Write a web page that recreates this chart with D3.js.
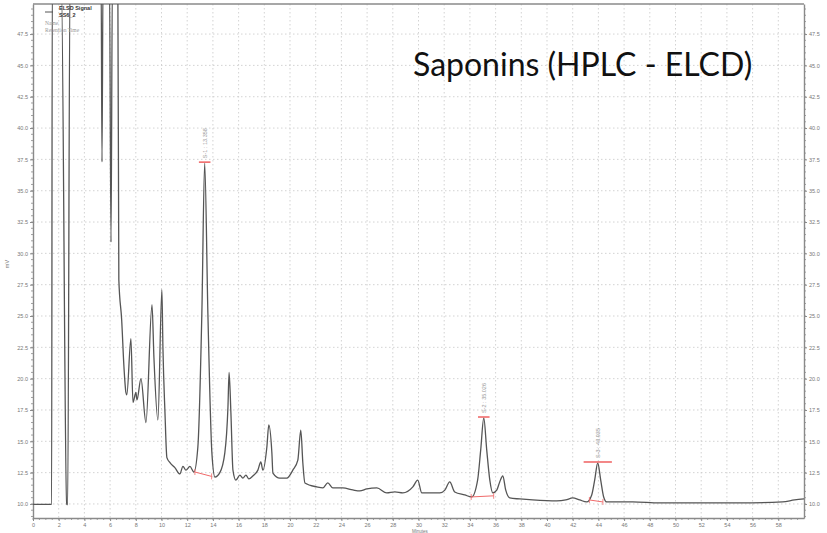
<!DOCTYPE html>
<html>
<head>
<meta charset="utf-8">
<script src="https://cdn.jsdelivr.net/npm/d3@7/dist/d3.min.js"></script>
<style>
  html, body { margin: 0; padding: 0; background: #fff; }
  svg { display: block; }
</style>
</head>
<body>
<svg id="chart" width="827" height="533"></svg>
<script>
// Retention time (min) of each trace sample
const traceTime = [
  0.00, 1.45, 1.50, 2.20, 2.62, 2.70, 2.88, 5.30, 5.37, 5.45, 5.95, 6.07, 6.18, 6.60,
  6.68, 6.90, 7.08, 7.23, 7.30, 7.62, 7.78, 8.01, 8.09, 8.40, 8.79, 9.26, 9.41, 9.72,
  10.03, 10.11, 10.27, 10.42, 10.66, 11.04, 11.43, 11.67, 11.90, 12.21, 12.52, 12.83,
  13.14, 13.36, 13.61, 13.92, 14.16, 14.54, 14.93, 15.17, 15.26, 15.40, 15.56, 15.79,
  16.10, 16.33, 16.57, 16.80, 17.11, 17.50, 17.73, 17.89, 18.20, 18.35, 18.59, 18.67,
  19.21, 19.76, 20.22, 20.61, 20.84, 21.00, 21.16, 22.09, 22.56, 22.94, 23.33, 24.11,
  24.89, 25.43, 25.98, 26.76, 27.53, 28.16, 28.78, 29.56, 29.94, 30.26, 31.66, 32.05,
  32.43, 32.82, 33.60, 34.14, 34.60, 34.84, 35.08, 35.31, 35.55, 35.78, 36.09, 36.32,
  36.56, 36.79, 37.10, 37.88, 38.89, 40.76, 41.46, 42.00, 42.54, 43.09, 43.48, 43.71,
  43.95, 44.18, 44.41, 44.65, 46.67, 48.77, 51.88, 54.99, 58.33, 59.27, 60.00
];
// ELSD response (mV) at each sample
const traceSignal = [
  9.97, 9.97, 52.0, 52.0, 10.0, 9.95, 52.0, 52.0, 37.3, 52.0, 52.0, 30.9, 52.0, 52.0,
  27.9, 24.7, 20.9, 18.9, 18.7, 23.2, 18.1, 18.9, 18.3, 20.0, 16.5, 25.9, 21.7, 16.7,
  27.1, 22.5, 17.3, 13.7, 13.3, 12.9, 12.4, 13.0, 12.7, 13.0, 12.55, 14.55,
  25.2, 37.2, 25.2, 14.1, 12.15, 12.5, 14.1, 17.7, 20.5, 17.3, 12.7, 11.9,
  12.3, 12.07, 12.3, 12.0, 12.23, 12.7, 13.35, 12.7, 14.55, 16.3, 14.07, 12.47,
  12.07, 12.07, 12.7, 13.5, 15.9, 13.27, 11.68, 11.36, 11.28, 11.68, 11.28, 11.28,
  11.12, 11.04, 11.2, 11.28, 10.88, 10.96, 10.88, 11.36, 11.9, 10.88, 10.88, 11.1,
  11.76, 10.96, 10.72, 10.56, 11.9, 14.3, 16.86, 14.3, 11.9, 10.88, 11.1, 11.76,
  12.23, 11.1, 10.48, 10.4, 10.32, 10.24, 10.32, 10.48, 10.32, 10.16, 10.72, 11.9,
  13.27, 11.9, 10.56, 10.16, 10.16, 10.08, 10.08, 10.08, 10.16, 10.32, 10.4
];

// Integrated peaks: apex, baseline start/end
const peakNames = ["S-1 : 13.358", "S-2 : 35.026", "S-3 : 43.935"];
const peakApexTime = [13.36, 35.08, 43.95];
const peakApexSignal = [37.2, 16.86, 13.27];
const peakBaseTime = [[12.6, 13.9], [34.1, 35.85], [43.3, 44.35]];
const peakBaseSignal = [[12.55, 12.2], [10.56, 10.65], [10.32, 10.16]];

const xTicks = d3.range(0, 60, 2);
const yTicks = [10.0, 12.5, 15.0, 17.5, 20.0, 22.5, 25.0, 27.5, 30.0, 32.5, 35.0, 37.5, 40.0, 42.5, 45.0, 47.5];

const chartTitle = "Saponins (HPLC - ELCD)";
const legendLines = ["ELSD Signal", "SS6_2"];
const legendFields = ["Name", "Retention Time"];

const svg = d3.select("#chart");
const plotL = 33, plotR = 804, plotT = 4, plotB = 518;

const x = d3.scaleLinear().domain([0, 60]).range([plotL, plotR]);
const y = d3.scaleLinear().domain([8.88, 49.9]).range([plotB, plotT]);

const axisColor = "#8a8a8a";
const labelFont = "Liberation Sans, Arial, sans-serif";

// grid
const grid = svg.append("g");
grid.selectAll("line.vg").data(xTicks.filter(d => d > 0)).join("line")
  .attr("x1", d => x(d)).attr("x2", d => x(d))
  .attr("y1", plotT).attr("y2", plotB)
  .attr("stroke", "#c8c8c8").attr("stroke-width", 0.8).attr("stroke-dasharray", "1.5,2.5");
grid.selectAll("line.hg").data(yTicks).join("line")
  .attr("x1", plotL).attr("x2", plotR)
  .attr("y1", d => y(d)).attr("y2", d => y(d))
  .attr("stroke", "#c8c8c8").attr("stroke-width", 0.8).attr("stroke-dasharray", "1.5,2.5");

// axes
function styleAxis(g) {
  g.select(".domain").attr("stroke", axisColor).attr("stroke-width", 1.4);
  g.selectAll(".tick line").attr("stroke", axisColor);
  g.selectAll(".tick text").attr("fill", "#777").style("font-family", labelFont).style("font-size", "5.5px");
}
function minor(g, scale, values, orient, len) {
  g.selectAll(null).data(values).join("line")
    .attr(orient === "x" ? "x1" : "y1", d => scale(d))
    .attr(orient === "x" ? "x2" : "y2", d => scale(d))
    .attr(orient === "x" ? "y1" : "x1", 0)
    .attr(orient === "x" ? "y2" : "x2", len)
    .attr("stroke", axisColor).attr("stroke-width", 0.8);
}

const gx = svg.append("g").attr("transform", `translate(0,${plotB})`)
  .call(d3.axisBottom(x).tickValues(xTicks).tickSize(3).tickSizeOuter(0).tickPadding(2).tickFormat(d3.format("d")));
styleAxis(gx);
minor(gx, x, d3.range(0, 60, 0.5), "x", 2);

const gl = svg.append("g").attr("transform", `translate(${plotL},0)`)
  .call(d3.axisLeft(y).tickValues(yTicks).tickSize(3).tickSizeOuter(0).tickPadding(2).tickFormat(d3.format(".1f")));
styleAxis(gl);
minor(gl, y, d3.range(9, 50, 0.5), "y", -2);

const gr = svg.append("g").attr("transform", `translate(${plotR},0)`)
  .call(d3.axisRight(y).tickValues(yTicks).tickSize(3).tickSizeOuter(0).tickPadding(2).tickFormat(d3.format(".1f")));
styleAxis(gr);
minor(gr, y, d3.range(9, 50, 0.5), "y", 2);

// frame top
svg.append("line").attr("x1", plotL).attr("x2", plotR).attr("y1", plotT).attr("y2", plotT)
  .attr("stroke", axisColor).attr("stroke-width", 1.4);

// axis titles
svg.append("text").attr("transform", "translate(9,264) rotate(-90)")
  .attr("text-anchor", "middle").attr("fill", "#777")
  .style("font-family", labelFont).style("font-size", "5.5px").text("mV");
svg.append("text").attr("x", 420).attr("y", 532.5)
  .attr("text-anchor", "middle").attr("fill", "#777")
  .style("font-family", labelFont).style("font-size", "4.5px").text("Minutes");

// trace
svg.append("clipPath").attr("id", "plotclip").append("rect")
  .attr("x", plotL).attr("y", plotT).attr("width", plotR - plotL).attr("height", plotB - plotT);

const line = d3.line().curve(d3.curveMonotoneX).x(d => x(d[0])).y(d => y(d[1]));
svg.append("path")
  .datum(traceTime.map((t, i) => [t, traceSignal[i]]))
  .attr("clip-path", "url(#plotclip)")
  .attr("fill", "none").attr("stroke", "#555").attr("stroke-width", 1.3)
  .attr("stroke-linejoin", "round")
  .attr("d", line);

// peak integration marks and labels
const red = "#f06a6a";
peakNames.forEach((name, i) => {
  const half = i === 2 ? 1.1 : 0.45;
  svg.append("line")
    .attr("x1", x(peakApexTime[i] - half)).attr("x2", x(peakApexTime[i] + half))
    .attr("y1", y(peakApexSignal[i]) - 1).attr("y2", y(peakApexSignal[i]) - 1)
    .attr("stroke", red).attr("stroke-width", 1.6);
  const bt = peakBaseTime[i], bs = peakBaseSignal[i];
  svg.append("line")
    .attr("x1", x(bt[0])).attr("x2", x(bt[1]))
    .attr("y1", y(bs[0])).attr("y2", y(bs[1]))
    .attr("stroke", red).attr("stroke-width", 1);
  [0, 1].forEach(k => {
    svg.append("line")
      .attr("x1", x(bt[k])).attr("x2", x(bt[k]))
      .attr("y1", y(bs[k]) - 3).attr("y2", y(bs[k]) + 3)
      .attr("stroke", red).attr("stroke-width", 0.8);
  });
  svg.append("text")
    .attr("transform", `translate(${x(peakApexTime[i]) + 2},${y(peakApexSignal[i]) - 5}) rotate(-90)`)
    .attr("fill", "#999").style("font-family", labelFont).style("font-size", "5.5px")
    .text(name);
});

// legend
svg.append("line").attr("x1", 45).attr("x2", 53).attr("y1", 12).attr("y2", 12)
  .attr("stroke", "#555").attr("stroke-width", 1);
legendLines.forEach((t, i) => {
  svg.append("text").attr("x", 59).attr("y", 10 + i * 7)
    .attr("fill", "#333").style("font-family", labelFont).style("font-size", "5.5px")
    .style("font-weight", "bold").text(t);
});
legendFields.forEach((t, i) => {
  svg.append("text").attr("x", 45).attr("y", 25 + i * 7)
    .attr("fill", "#999").style("font-family", "Liberation Serif, serif").style("font-size", "5.5px")
    .text(t);
});

// title
svg.append("text").attr("x", 413).attr("y", 76)
  .attr("fill", "#111").style("font-family", "Lato, 'Open Sans', sans-serif").style("font-size", "32px")
  .text(chartTitle);
</script>
</body>
</html>
